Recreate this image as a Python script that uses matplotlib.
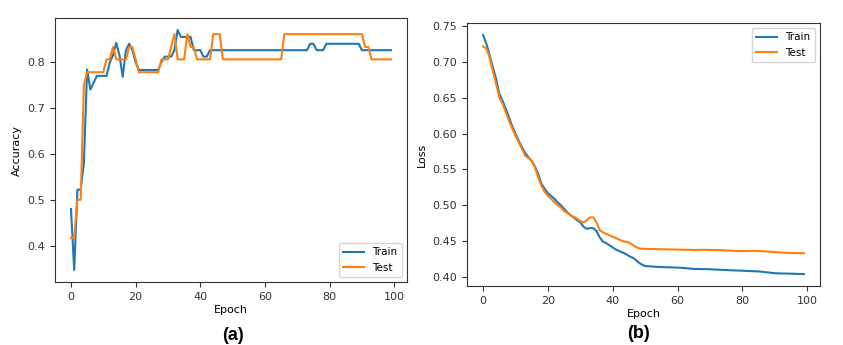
import numpy as np
import matplotlib
matplotlib.use("Agg")
import matplotlib.pyplot as plt

# accuracy per epoch
acc_train = [0.480, 0.347, 0.522, 0.522, 0.580, 0.784, 0.740, 0.755, 0.770, 0.770,
             0.770, 0.770, 0.799, 0.815, 0.842, 0.815, 0.768, 0.826, 0.840, 0.826,
             0.800, 0.783, 0.783, 0.783, 0.783, 0.783, 0.783, 0.783, 0.800, 0.812,
             0.812, 0.812, 0.826, 0.870, 0.855, 0.855, 0.855, 0.855, 0.826, 0.826,
             0.826, 0.812, 0.812, 0.826, 0.826, 0.826, 0.826, 0.826, 0.826, 0.826,
             0.826, 0.826, 0.826, 0.826, 0.826, 0.826, 0.826, 0.826, 0.826, 0.826,
             0.826, 0.826, 0.826, 0.826, 0.826, 0.826, 0.826, 0.826, 0.826, 0.826,
             0.826, 0.826, 0.826, 0.826, 0.840, 0.840, 0.826, 0.826, 0.826, 0.840,
             0.840, 0.840, 0.840, 0.840, 0.840, 0.840, 0.840, 0.840, 0.840, 0.840,
             0.826, 0.826, 0.826, 0.826, 0.826, 0.826, 0.826, 0.826, 0.826, 0.826]
acc_test = [0.417, 0.417, 0.500, 0.500, 0.750, 0.778, 0.778, 0.778, 0.778, 0.778,
            0.778, 0.806, 0.806, 0.833, 0.806, 0.806, 0.806, 0.806, 0.833, 0.833,
            0.806, 0.778, 0.778, 0.778, 0.778, 0.778, 0.778, 0.778, 0.806, 0.806,
            0.806, 0.833, 0.861, 0.806, 0.806, 0.806, 0.861, 0.833, 0.833, 0.806,
            0.806, 0.806, 0.806, 0.806, 0.861, 0.861, 0.861, 0.806, 0.806, 0.806,
            0.806, 0.806, 0.806, 0.806, 0.806, 0.806, 0.806, 0.806, 0.806, 0.806,
            0.806, 0.806, 0.806, 0.806, 0.806, 0.806, 0.861, 0.861, 0.861, 0.861,
            0.861, 0.861, 0.861, 0.861, 0.861, 0.861, 0.861, 0.861, 0.861, 0.861,
            0.861, 0.861, 0.861, 0.861, 0.861, 0.861, 0.861, 0.861, 0.861, 0.861,
            0.861, 0.833, 0.833, 0.806, 0.806, 0.806, 0.806, 0.806, 0.806, 0.806]

# loss per epoch
loss_train = [0.738, 0.726, 0.710, 0.693, 0.677, 0.656, 0.646, 0.635, 0.623, 0.610,
              0.600, 0.590, 0.581, 0.573, 0.567, 0.562, 0.554, 0.544, 0.530, 0.523,
              0.517, 0.513, 0.509, 0.504, 0.500, 0.495, 0.490, 0.486, 0.483, 0.479,
              0.476, 0.470, 0.467, 0.468, 0.468, 0.464, 0.455, 0.449, 0.447, 0.444,
              0.441, 0.438, 0.436, 0.434, 0.432, 0.429, 0.427, 0.424, 0.420, 0.417,
              0.415, 0.4147, 0.4144, 0.4141, 0.4138, 0.4136, 0.4134, 0.4132, 0.4131, 0.413,
              0.4128, 0.4125, 0.4122, 0.4118, 0.4114, 0.411, 0.4109, 0.4108, 0.4107, 0.4107,
              0.4105, 0.4102, 0.410, 0.4098, 0.4096, 0.4094, 0.4092, 0.409, 0.4088, 0.4086,
              0.4085, 0.4082, 0.408, 0.4078, 0.4077, 0.4075, 0.407, 0.4065, 0.406, 0.4055,
              0.405, 0.4048, 0.4046, 0.4045, 0.4044, 0.4043, 0.4042, 0.404, 0.4039, 0.4038]
loss_test = [0.722, 0.719, 0.707, 0.688, 0.670, 0.651, 0.642, 0.630, 0.618, 0.607,
             0.597, 0.588, 0.579, 0.569, 0.566, 0.562, 0.553, 0.539, 0.527, 0.519,
             0.513, 0.509, 0.504, 0.500, 0.497, 0.492, 0.489, 0.486, 0.484, 0.481,
             0.478, 0.476, 0.479, 0.483, 0.483, 0.476, 0.465, 0.462, 0.460, 0.458,
             0.456, 0.454, 0.452, 0.450, 0.449, 0.448, 0.445, 0.442, 0.440, 0.4392,
             0.439, 0.4389, 0.4388, 0.4387, 0.4386, 0.4385, 0.4384, 0.4383, 0.4382, 0.4381,
             0.438, 0.4379, 0.4378, 0.4377, 0.4376, 0.4375, 0.4375, 0.4376, 0.4377, 0.4376,
             0.4375, 0.4374, 0.4373, 0.4372, 0.437, 0.4368, 0.4366, 0.4364, 0.4362, 0.436,
             0.436, 0.436, 0.4361, 0.4362, 0.4362, 0.436, 0.4358, 0.4355, 0.4352, 0.4348,
             0.4345, 0.4342, 0.4339, 0.4337, 0.4335, 0.4333, 0.4332, 0.4331, 0.433, 0.433]

epochs = np.arange(len(acc_train))
fs = 8

fig = plt.figure(figsize=(8.43, 3.45), dpi=100)

# (a) accuracy
ax1 = fig.add_axes([0.0652, 0.1826, 0.4176, 0.7652])
ax1.plot(epochs, acc_train, label="Train")
ax1.plot(epochs, acc_test, label="Test")
ax1.set_xlabel("Epoch", fontsize=fs, labelpad=2)
ax1.set_ylabel("Accuracy", fontsize=fs)
ax1.set_xticks([0, 20, 40, 60, 80, 100])
ax1.set_yticks([0.4, 0.5, 0.6, 0.7, 0.8])
ax1.tick_params(labelsize=fs, colors="#333333")
ax1.legend(loc="lower right", fontsize=7.5)

# (b) loss
ax2 = fig.add_axes([0.554, 0.171, 0.4187, 0.7623])
ax2.plot(epochs, loss_train, label="Train")
ax2.plot(epochs, loss_test, label="Test")
ax2.set_xlabel("Epoch", fontsize=fs, labelpad=2)
ax2.set_ylabel("Loss", fontsize=fs)
ax2.set_xticks([0, 20, 40, 60, 80, 100])
ax2.tick_params(labelsize=fs, colors="#333333")
ax2.legend(loc="upper right", fontsize=7.5)

for ax in (ax1, ax2):
    for sp in ax.spines.values():
        sp.set_color("#333333")

fig.text(233 / 843, 1 - 335 / 345, "(a)", ha="center", va="center",
         fontsize=13, fontweight="bold", family="Liberation Sans")
fig.text(638 / 843, 1 - 333 / 345, "(b)", ha="center", va="center",
         fontsize=13, fontweight="bold", family="Liberation Sans")

fig.savefig("out.png", dpi=100)
